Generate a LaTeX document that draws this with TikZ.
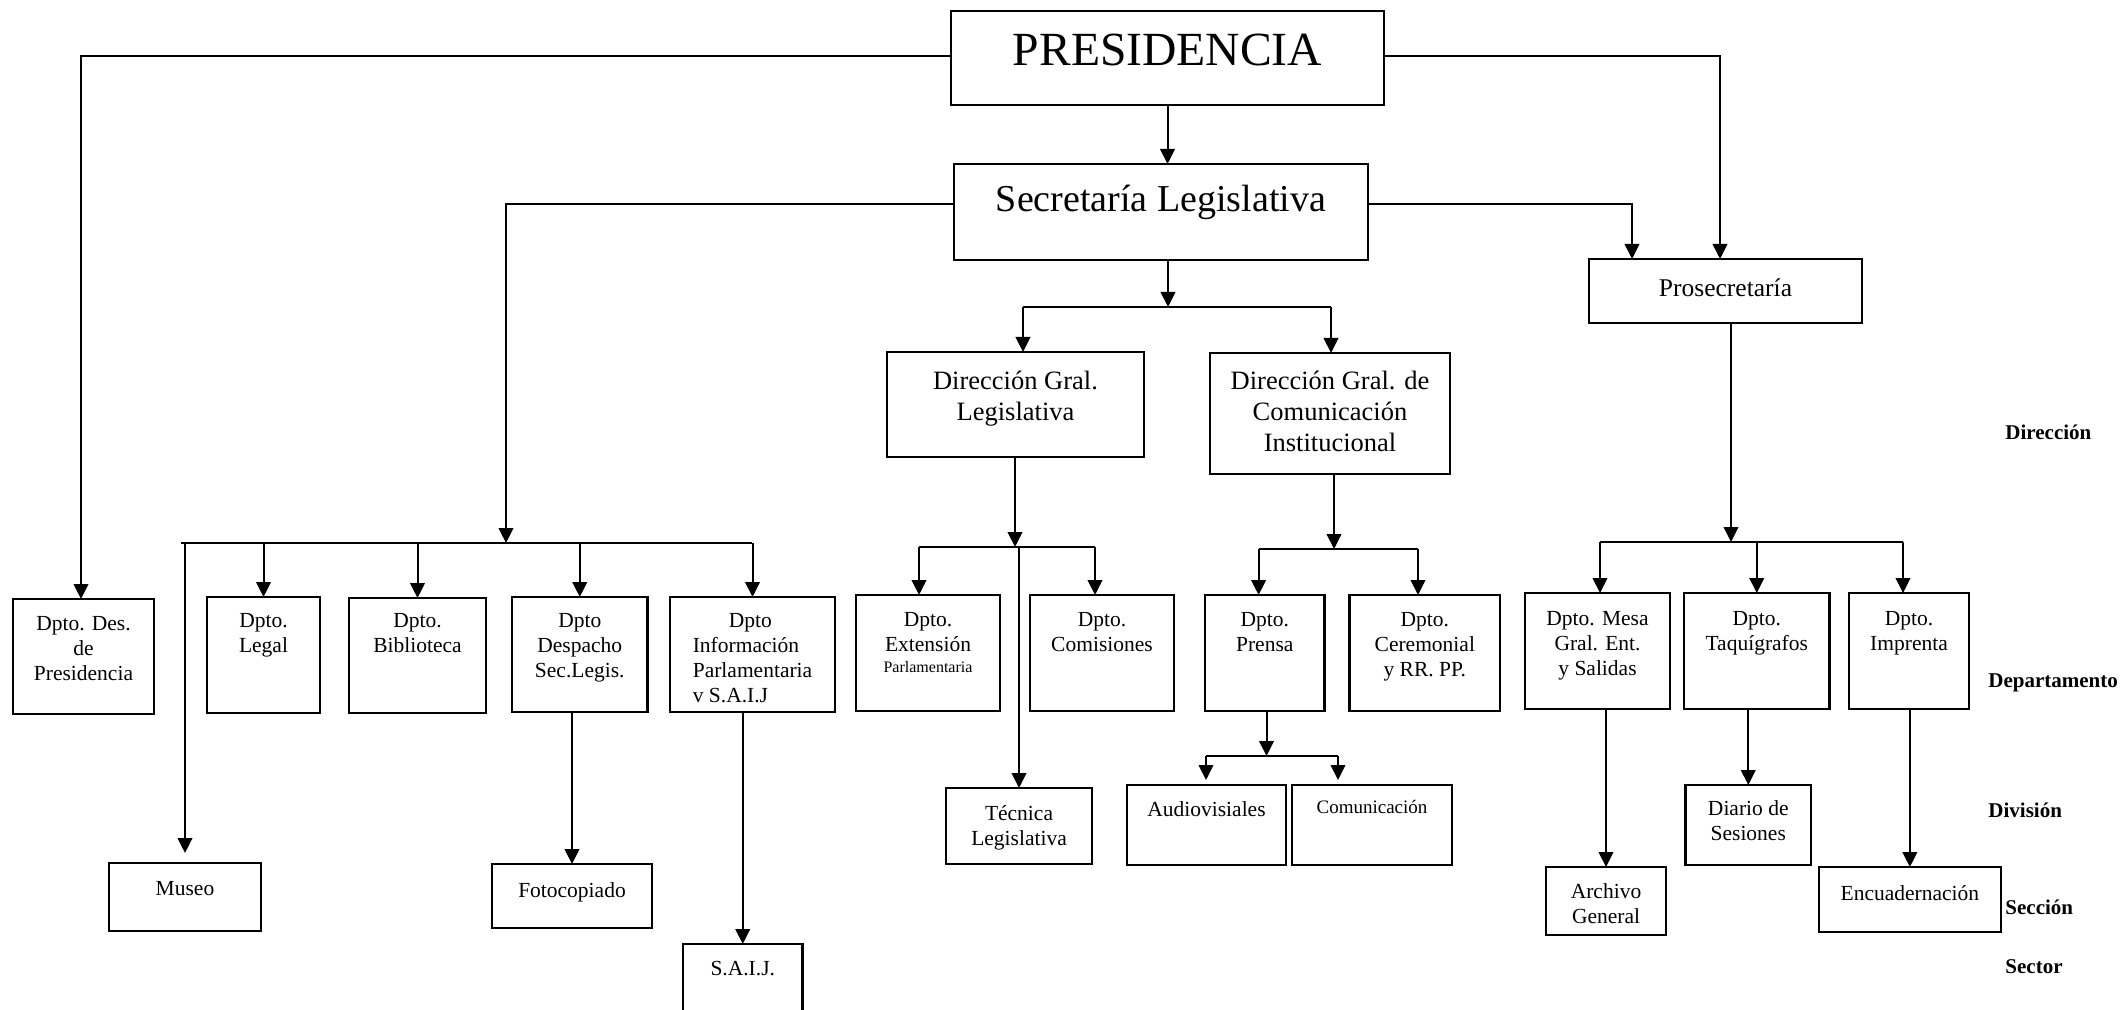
\documentclass[tikz,border=0pt]{standalone}
\usepackage{fontspec}
\setmainfont{Liberation Serif}
\usetikzlibrary{arrows.meta}
\newcommand\OrgBox[8][]{%
  \node[box, minimum width={(#5-#3)*0.5pt}, minimum height={(#6-#4)*0.5pt}] (#2) at ({(#3+#5)/2},{(#4+#6)/2}) {};
  \node[txt, anchor=north, #1] (#2-t) at ({(#3+#5)/2},#7) {#8};
}
\begin{document}
\begin{tikzpicture}[x=0.5pt,y=-0.5pt,
  box/.style={draw, line width=1.2pt, inner sep=0pt, outer sep=0pt},
  txt/.style={inner sep=0pt, outer sep=0pt, align=center, font=\fontsize{10.75pt}{12.5pt}\selectfont},
  bigtxt/.style={font=\fontsize{13.25pt}{15.5pt}\selectfont},
  lbl/.style={inner sep=0pt, anchor=west, font=\bfseries\fontsize{10.5pt}{12pt}\selectfont},
  ln/.style={line width=1pt},
  arr/.style={ln, -{Triangle[length=7.5pt,width=7.3pt]}},
]
\useasboundingbox (0,0) rectangle (2123,1010);

% boxes
\OrgBox[font=\fontsize{23.8pt}{28pt}\selectfont]{pres}{951}{11}{1384}{105}{34}{PRESIDENCIA}
\OrgBox[font=\fontsize{19pt}{23pt}\selectfont]{sec}{954}{164}{1368}{260}{185}{Secretaría Legislativa}
\OrgBox[bigtxt]{dgl}{887}{352}{1144}{457}{371}{Dirección Gral.\\Legislativa}
\OrgBox[bigtxt]{dgci}{1210}{353}{1450}{474}{371}{Dirección Gral. de\\Comunicación\\Institucional}
\OrgBox[font=\fontsize{12.75pt}{15pt}\selectfont]{pros}{1589}{259}{1862}{323}{279}{Prosecretaría}
\OrgBox{dd}{13}{599}{154}{714}{616}{Dpto. Des.\\de\\Presidencia}
\OrgBox{legal}{207}{597}{320}{713}{613}{Dpto.\\Legal}
\OrgBox{bib}{349}{598}{486}{713}{613}{Dpto.\\Biblioteca}
\OrgBox{desp}{512}{597}{647.5}{712}{613}{Dpto\\Despacho\\Sec.Legis.}
\OrgBox[align=left]{info}{670}{597}{835}{712}{613}{\hspace*{18pt}Dpto\\Información\\Parlamentaria\\v S.A.I.J}
\OrgBox{ext}{856}{595}{1000}{711}{612}{Dpto.\\Extensión\\[-2pt]{\fontsize{8pt}{9pt}\selectfont Parlamentaria}}
\OrgBox{com}{1030}{595}{1174}{711}{612}{Dpto.\\Comisiones}
\OrgBox{prensa}{1205}{595}{1324.5}{711}{612}{Dpto.\\Prensa}
\OrgBox{cer}{1349.6}{595}{1500}{711}{612}{Dpto.\\Ceremonial\\y RR. PP.}
\OrgBox{mesa}{1525}{593}{1670}{709}{611}{Dpto. Mesa\\Gral. Ent.\\y Salidas}
\OrgBox{taq}{1684}{593}{1829.5}{709}{611}{Dpto.\\Taquígrafos}
\OrgBox{imp}{1849}{593}{1969}{709}{611}{Dpto.\\Imprenta}
\OrgBox{museo}{109}{863}{261}{931}{881}{Museo}
\OrgBox{foto}{492}{864}{652}{928}{883}{Fotocopiado}
\OrgBox{saij}{683}{944}{802.5}{1016}{961}{S.A.I.J.}
\OrgBox{tec}{946}{788}{1092}{864}{806}{Técnica\\Legislativa}
\OrgBox{audio}{1127}{785}{1286}{865}{802}{Audiovisiales}
\OrgBox[font=\fontsize{9.5pt}{11pt}\selectfont]{comu}{1292}{785}{1452}{865}{800}{Comunicación}
\OrgBox{diario}{1685.5}{785}{1811}{865}{801}{Diario de\\Sesiones}
\OrgBox{arch}{1546}{867}{1666}{935}{884}{Archivo\\General}
\OrgBox{enc}{1819}{867}{2000.7}{932}{886}{Encuadernación}

% level labels
\node[lbl] (l1) at (2005,432) {Dirección};
\node[lbl] (l2) at (1988,683) {Departamento};
\node[lbl] (l3) at (1988,810) {División};
\node[lbl] (l4) at (2005,907) {Sección};
\node[lbl] (l5) at (2005,967) {Sector};

% junction coordinates
\coordinate (lb1) at (181,543); \coordinate (lb2) at (752,543); \coordinate (lbm) at (506,543);
\coordinate (tb1) at (1023,307); \coordinate (tb2) at (1331,307);
\coordinate (gb1) at (919,547); \coordinate (gb2) at (1095,547);
\coordinate (cb1) at (1258.6,549); \coordinate (cb2) at (1418,549);
\coordinate (pb1) at (1206,756); \coordinate (pb2) at (1338,756);
\coordinate (rb1) at (1600,542); \coordinate (rb2) at (1903,542);
\coordinate (pl) at (81,56); \coordinate (pr) at (1720,56);
\coordinate (sl) at (506,204); \coordinate (sr) at (1632,204);
\coordinate (sd) at (1168,307); \coordinate (gd) at (1015,547);
\coordinate (cd) at (1334,549); \coordinate (pd) at (1266.5,756);
\coordinate (qd) at (1731,542);

% Presidencia
\draw[arr] (pres.west |- pl) -- (pl) -- (pl |- dd.north);
\draw[arr] (pres.east |- pr) -- (pr) -- (pr |- pros.north);
\draw[arr] (pres.south) -- (pres.south |- sec.north);
% Secretaria
\draw[arr] (sec.west |- sl) -- (sl) -- (lbm);
\draw[arr] (sec.east |- sr) -- (sr) -- (sr |- pros.north);
\draw[arr] (sec.south -| sd) -- (sd);
\draw[ln] (tb1) -- (tb2);
\draw[arr] (tb1) -- (tb1 |- dgl.north);
\draw[arr] (tb2) -- (tb2 |- dgci.north);
% Direccion Gral. Legislativa
\draw[arr] (dgl.south -| gd) -- (gd);
\draw[ln] (gb1) -- (gb2);
\draw[arr] (gb1) -- (gb1 |- ext.north);
\draw[arr] (gb2) -- (gb2 |- com.north);
\draw[arr] (tec.north |- gb1) -- (tec.north);
% Direccion Gral. de Comunicacion
\draw[arr] (dgci.south -| cd) -- (cd);
\draw[ln] (cb1) -- (cb2);
\draw[arr] (cb1) -- (cb1 |- prensa.north);
\draw[arr] (cb2) -- (cb2 |- cer.north);
% left bar
\draw[ln] (lb1) -- (lb2);
\draw[arr, shorten >=5pt] (museo.north |- lb1) -- (museo.north);
\draw[arr] (legal.north |- lb1) -- (legal.north);
\draw[arr] (bib.north |- lb1) -- (bib.north);
\draw[arr] (desp.north |- lb1) -- (desp.north);
\draw[arr] (info.north |- lb1) -- (info.north);
\draw[arr] (foto.north |- desp.south) -- (foto.north);
\draw[arr] (saij.north |- info.south) -- (saij.north);
% Prensa
\draw[arr] (prensa.south -| pd) -- (pd);
\draw[ln] (pb1) -- (pb2);
\draw[arr, shorten >=2.5pt] (pb1) -- (pb1 |- audio.north);
\draw[arr, shorten >=2.5pt] (pb2) -- (pb2 |- comu.north);
% Prosecretaria
\draw[arr] (pros.south -| qd) -- (qd);
\draw[ln] (rb1) -- (rb2);
\draw[arr] (rb1) -- (rb1 |- mesa.north);
\draw[arr] (taq.north |- rb1) -- (taq.north);
\draw[arr] (rb2) -- (rb2 |- imp.north);
\draw[arr] (arch.north |- mesa.south) -- (arch.north);
\draw[arr] (diario.north |- taq.south) -- (diario.north);
\draw[arr] (enc.north |- imp.south) -- (enc.north);
\end{tikzpicture}
\end{document}
